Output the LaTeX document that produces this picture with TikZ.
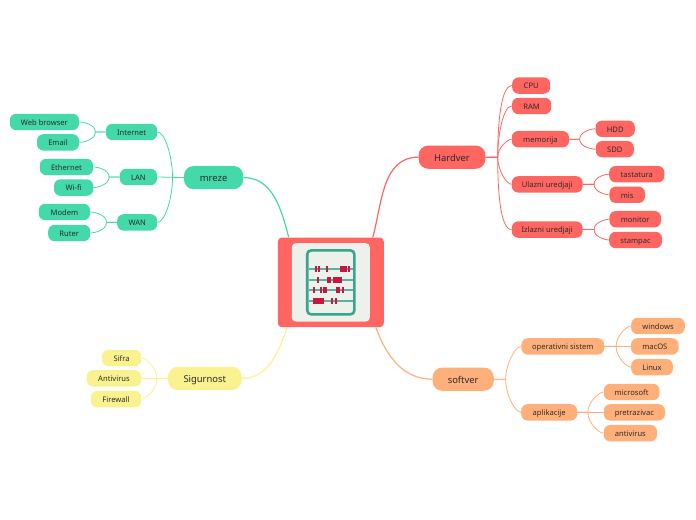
\documentclass[tikz,border=0pt]{standalone}
\usepackage{fontspec}
\setmainfont{Noto Sans}
\definecolor{hwred}{HTML}{FF6661}
\definecolor{netgreen}{HTML}{43D9A8}
\definecolor{swpeach}{HTML}{FFB07A}
\definecolor{secyellow}{HTML}{F9F28F}
\definecolor{screengray}{HTML}{EEF0EC}
\definecolor{frameteal}{HTML}{37A68F}
\definecolor{beadred}{HTML}{C8173F}
\definecolor{inkgray}{HTML}{2B2B2B}
\tikzset{
  leaf/.style={minimum height=.41cm,inner sep=0pt,text height=4.8pt,text depth=0pt,rounded corners=.16cm,text=inkgray,font=\fontsize{5.4}{6.5}\selectfont},
  topic/.style={minimum height=.58cm,inner sep=0pt,text height=5.5pt,text depth=0pt,rounded corners=.24cm,text=inkgray,font=\fontsize{6.7}{8}\selectfont},
  mainline/.style={line width=.03cm},
  subline/.style={line width=.02cm},
  goup/.style={out looseness=1.1,in looseness=.4},
  bead/.style={line width=.15cm,beadred,dash pattern=on .056cm off .004cm},
  rod/.style={line width=.05cm,frameteal!85!white}
}

\begin{document}
\begin{tikzpicture}
\useasboundingbox (0,0) rectangle (17.4,13);

\node[fill=hwred,rounded corners=.1cm,minimum width=2.65cm,minimum height=2.24cm,inner sep=0pt] (abacus) at (8.27,5.94){};
\node[fill=screengray,rounded corners=.1cm,minimum width=1.95cm,minimum height=1.96cm,inner sep=0pt] (screen) at (8.27,5.94){};
\draw[rod] (7.73,6.28) -- (8.82,6.28);
\draw[rod] (7.73,6.01) -- (8.82,6.01);
\draw[rod] (7.73,5.74) -- (8.82,5.74);
\draw[rod] (7.73,5.475) -- (8.82,5.475);
\draw[bead] (7.88,6.28) -- (7.995,6.28);
\draw[bead] (8.138,6.28) -- (8.193,6.28);
\draw[bead] (8.508,6.28) -- (8.743,6.28);
\draw[bead] (7.913,6.01) -- (7.968,6.01);
\draw[bead] (8.17,6.01) -- (8.285,6.01);
\draw[bead] (8.325,6.01) -- (8.56,6.01);
\draw[bead] (7.822,5.74) -- (7.877,5.74);
\draw[bead] (8.003,5.74) -- (8.178,5.74);
\draw[bead] (8.395,5.74) -- (8.51,5.74);
\draw[bead] (8.556,5.74) -- (8.611,5.74);
\draw[bead] (7.817,5.475) -- (8.112,5.475);
\draw[bead] (8.28,5.475) -- (8.335,5.475);
\draw[bead] (8.372,5.475) -- (8.427,5.475);
\node[draw=frameteal,line width=.065cm,rounded corners=.1cm,minimum width=1.18cm,minimum height=1.6cm,inner sep=0pt] (frame) at (8.27,5.94){};

\node[topic,fill=netgreen,minimum width=1.48cm] (Mreze) at (5.34,8.56){mreze};
\node[leaf,fill=netgreen,minimum width=1.28cm] (Internet) at (3.29,9.70){Internet};
\node[leaf,fill=netgreen,minimum width=.93cm] (LAN) at (3.46,8.575){LAN};
\node[leaf,fill=netgreen,minimum width=1cm] (WAN) at (3.43,7.44){WAN};
\node[leaf,fill=netgreen,minimum width=1.73cm] (Browser) at (1.11,9.95){Web browser};
\node[leaf,fill=netgreen,minimum width=1.05cm] (Email) at (1.45,9.44){Email};
\node[leaf,fill=netgreen,minimum width=1.33cm] (Ethernet) at (1.66,8.825){Ethernet};
\node[leaf,fill=netgreen,minimum width=.98cm] (Wifi) at (1.84,8.31){Wi-fi};
\node[leaf,fill=netgreen,minimum width=1.28cm] (Modem) at (1.61,7.70){Modem};
\node[leaf,fill=netgreen,minimum width=1.05cm] (Ruter) at (1.73,7.175){Ruter};

\node[topic,fill=hwred,minimum width=1.67cm] (Hardver) at (11.30,9.07){Hardver};
\node[leaf,fill=hwred,minimum width=.95cm] (CPU) at (13.28,10.86){CPU};
\node[leaf,fill=hwred,minimum width=.98cm] (RAM) at (13.29,10.35){RAM};
\node[leaf,fill=hwred,minimum width=1.43cm] (Memorija) at (13.51,9.52){memorija};
\node[leaf,fill=hwred,minimum width=1.77cm] (Ulazni) at (13.68,8.39){Ulazni uredjaji};
\node[leaf,fill=hwred,minimum width=1.77cm] (Izlazni) at (13.68,7.26){Izlazni uredjaji};
\node[leaf,fill=hwred,minimum width=.98cm] (HDD) at (15.38,9.78){HDD};
\node[leaf,fill=hwred,minimum width=.95cm] (SDD) at (15.37,9.27){SDD};
\node[leaf,fill=hwred,minimum width=1.38cm] (Tastatura) at (15.92,8.645){tastatura};
\node[leaf,fill=hwred,minimum width=.89cm] (Mis) at (15.68,8.13){mis};
\node[leaf,fill=hwred,minimum width=1.29cm] (Monitor) at (15.88,7.52){monitor};
\node[leaf,fill=hwred,minimum width=1.32cm] (Stampac) at (15.89,7.0){stampac};

\node[topic,fill=swpeach,minimum width=1.53cm] (Softver) at (11.58,3.52){softver};
\node[leaf,fill=swpeach,minimum width=2.07cm] (Sistem) at (14.07,4.34){operativni sistem};
\node[leaf,fill=swpeach,minimum width=1.40cm] (Aplikacije) at (13.73,2.69){aplikacije};
\node[leaf,fill=swpeach,minimum width=1.34cm] (Windows) at (16.45,4.85){windows};
\node[leaf,fill=swpeach,minimum width=1.19cm] (MacOS) at (16.37,4.34){macOS};
\node[leaf,fill=swpeach,minimum width=1.04cm] (Linux) at (16.30,3.82){Linux};
\node[leaf,fill=swpeach,minimum width=1.39cm] (Microsoft) at (15.79,3.20){microsoft};
\node[leaf,fill=swpeach,minimum width=1.53cm] (Pretrazivac) at (15.86,2.69){pretrazivac};
\node[leaf,fill=swpeach,minimum width=1.33cm] (AntivirusR) at (15.76,2.17){antivirus};

\node[topic,fill=secyellow,minimum width=1.84cm] (Sigurnost) at (5.12,3.54){Sigurnost};
\node[leaf,fill=secyellow,minimum width=.98cm] (Sifra) at (3.04,4.05){Sifra};
\node[leaf,fill=secyellow,minimum width=1.36cm] (AntivirusL) at (2.85,3.54){Antivirus};
\node[leaf,fill=secyellow,minimum width=1.26cm] (Firewall) at (2.90,3.02){Firewall};

\draw[mainline,netgreen] (Mreze.east) to[out=0,in=105] (abacus.133);
\draw[mainline,hwred] (Hardver.west) to[out=180,in=75] (abacus.47);
\draw[mainline,swpeach] (Softver.west) to[out=180,in=-70] (abacus.-45);
\draw[mainline,secyellow] (Sigurnost.east) to[out=0,in=-110] (abacus.-134);

\draw[subline,netgreen] (Mreze.west) -- (LAN.east);
\draw[subline,netgreen,goup] (Mreze.west) -- ++(-.28,0) to[out=90,in=0] (Internet.east);
\draw[subline,netgreen,goup] (Mreze.west) -- ++(-.28,0) to[out=-90,in=0] (WAN.east);
\draw[subline,netgreen,goup] (Internet.west) -- ++(-.26,0) to[out=90,in=0] (Browser.east);
\draw[subline,netgreen,goup] (Internet.west) -- ++(-.26,0) to[out=-90,in=0] (Email.east);
\draw[subline,netgreen,goup] (LAN.west) -- ++(-.26,0) to[out=90,in=0] (Ethernet.east);
\draw[subline,netgreen,goup] (LAN.west) -- ++(-.26,0) to[out=-90,in=0] (Wifi.east);
\draw[subline,netgreen,goup] (WAN.west) -- ++(-.26,0) to[out=90,in=0] (Modem.east);
\draw[subline,netgreen,goup] (WAN.west) -- ++(-.26,0) to[out=-90,in=0] (Ruter.east);

\draw[subline,hwred,goup] (Hardver.east) -- ++(.3,0) to[out=90,in=180] (CPU.west);
\draw[subline,hwred,goup] (Hardver.east) -- ++(.3,0) to[out=90,in=180] (RAM.west);
\draw[subline,hwred,goup] (Hardver.east) -- ++(.3,0) to[out=90,in=180] (Memorija.west);
\draw[subline,hwred,goup] (Hardver.east) -- ++(.3,0) to[out=-90,in=180] (Ulazni.west);
\draw[subline,hwred,goup] (Hardver.east) -- ++(.3,0) to[out=-90,in=180] (Izlazni.west);
\draw[subline,hwred,goup] (Memorija.east) -- ++(.26,0) to[out=90,in=180] (HDD.west);
\draw[subline,hwred,goup] (Memorija.east) -- ++(.26,0) to[out=-90,in=180] (SDD.west);
\draw[subline,hwred,goup] (Ulazni.east) -- ++(.28,0) to[out=90,in=180] (Tastatura.west);
\draw[subline,hwred,goup] (Ulazni.east) -- ++(.28,0) to[out=-90,in=180] (Mis.west);
\draw[subline,hwred,goup] (Izlazni.east) -- ++(.28,0) to[out=90,in=180] (Monitor.west);
\draw[subline,hwred,goup] (Izlazni.east) -- ++(.28,0) to[out=-90,in=180] (Stampac.west);

\draw[subline,swpeach,goup] (Softver.east) -- ++(.29,0) to[out=90,in=180] (Sistem.west);
\draw[subline,swpeach,goup] (Softver.east) -- ++(.29,0) to[out=-90,in=180] (Aplikacije.west);
\draw[subline,swpeach] (Sistem.east) -- (MacOS.west);
\draw[subline,swpeach,goup] (Sistem.east) -- ++(.29,0) to[out=90,in=180] (Windows.west);
\draw[subline,swpeach,goup] (Sistem.east) -- ++(.29,0) to[out=-90,in=180] (Linux.west);
\draw[subline,swpeach] (Aplikacije.east) -- (Pretrazivac.west);
\draw[subline,swpeach,goup] (Aplikacije.east) -- ++(.26,0) to[out=90,in=180] (Microsoft.west);
\draw[subline,swpeach,goup] (Aplikacije.east) -- ++(.26,0) to[out=-90,in=180] (AntivirusR.west);

\draw[subline,secyellow] (Sigurnost.west) -- (AntivirusL.east);
\draw[subline,secyellow,goup] (Sigurnost.west) -- ++(-.27,0) to[out=90,in=0] (Sifra.east);
\draw[subline,secyellow,goup] (Sigurnost.west) -- ++(-.27,0) to[out=-90,in=0] (Firewall.east);
\end{tikzpicture}
\end{document}
